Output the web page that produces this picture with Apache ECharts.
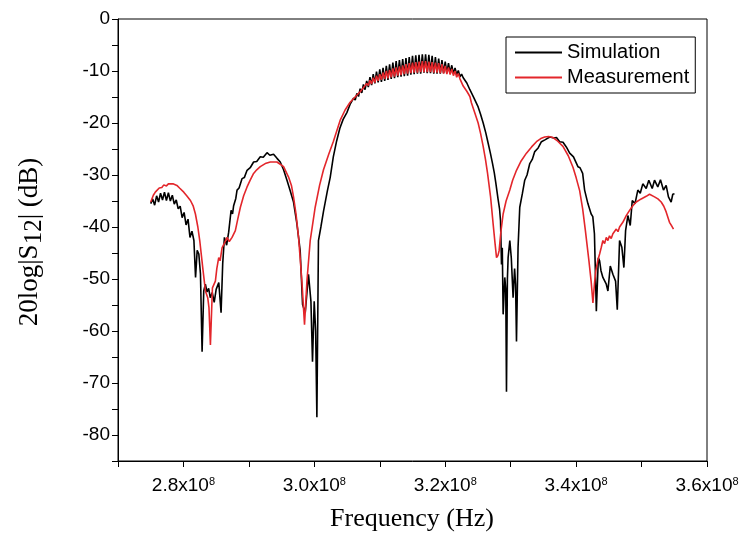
<!DOCTYPE html>
<html>
<head>
<meta charset="utf-8">
<script src="https://cdn.jsdelivr.net/npm/echarts/dist/echarts.min.js"></script>
<style>
  html, body { margin: 0; padding: 0; background: #fff; }
  #chart { width: 749px; height: 539px; }
</style>
</head>
<body>
<div id="chart"></div>
<script>
// frequency in MHz, magnitude in dB
const simulation = [
  [275.0,-35.5],[275.3,-34.6],[275.6,-35.8],[275.9,-34.0],[276.2,-35.2],[276.5,-33.5],[276.8,-34.8],[277.1,-33.3],
  [277.4,-34.9],[277.7,-33.4],[278.0,-35.0],[278.3,-33.9],[278.6,-35.6],[278.9,-34.8],[279.2,-36.5],[279.5,-36.0],
  [279.8,-38.2],[280.1,-37.2],[280.4,-39.6],[280.7,-38.5],[281.0,-42.0],[281.3,-40.8],[281.6,-42.6],[281.85,-49.7],
  [282.1,-44.5],[282.35,-45.2],[282.6,-49.0],[282.85,-64.0],[283.1,-52.3],[283.35,-51.0],[283.6,-52.5],[283.85,-51.8],
  [284.1,-53.6],[284.4,-52.6],[284.7,-54.5],[285.0,-52.0],[285.4,-50.7],[285.75,-56.5],[286.0,-47.0],[286.26,-42.0],
  [286.6,-43.5],[286.91,-41.0],[287.28,-36.8],[287.5,-37.5],[287.67,-35.9],[288.0,-34.5],[288.19,-32.9],[288.5,-32.5],
  [288.95,-30.7],[289.3,-30.5],[289.72,-29.1],[290.2,-28.6],[290.72,-27.5],[291.2,-27.4],[291.74,-26.5],[292.2,-26.6],
  [292.77,-25.7],[293.2,-26.2],[293.77,-26.0],[294.3,-26.8],[294.79,-27.5],[295.3,-29.0],[295.82,-31.0],[296.3,-33.0],
  [296.82,-35.2],[297.34,-39.4],[297.84,-44.6],[298.2,-54.9],[298.61,-56.5],[299.11,-49.1],[299.48,-54.3],[299.72,-65.9],
  [299.98,-54.3],[300.2,-60.0],[300.39,-76.6],[300.63,-42.6],[301.0,-40.0],[301.4,-37.0],[302.0,-33.0],[302.42,-30.5],
  [302.9,-26.5],[303.4,-23.5],[303.9,-21.0],[304.4,-19.3],[304.97,-18.0],
  [305.5,-16.3],[305.75,-16.6],[306.0,-15.2],[306.25,-15.6],[306.5,-14.3],[306.75,-14.9],[307.0,-13.4],[307.25,-14.2],
  [307.5,-12.6],[307.75,-13.6],[308.0,-11.9],[308.25,-13.1],[308.5,-11.2],[308.75,-12.7],[309.0,-10.6],[309.25,-12.4],
  [309.5,-10.1],[309.75,-12.2],[310.0,-9.7],[310.25,-12.1],[310.5,-9.4],[310.75,-11.9],[311.0,-9.0],[311.25,-11.7],
  [311.5,-8.7],[311.75,-11.5],[312.0,-8.4],[312.25,-11.4],[312.5,-8.1],[312.75,-11.2],[313.0,-7.9],[313.25,-11.1],
  [313.5,-7.7],[313.75,-11.0],[314.0,-7.5],[314.25,-10.9],[314.5,-7.3],[314.75,-10.7],[315.0,-7.1],[315.25,-10.6],
  [315.5,-7.0],[315.75,-10.5],[316.0,-6.9],[316.25,-10.5],[316.5,-6.8],[316.75,-10.3],[317.0,-6.8],[317.25,-10.4],
  [317.5,-6.9],[317.75,-10.4],[318.0,-7.1],[318.25,-10.5],[318.5,-7.3],[318.75,-10.5],[319.0,-7.6],[319.25,-10.5],
  [319.5,-7.9],[319.75,-10.4],[320.0,-8.2],[320.25,-10.4],[320.5,-8.5],[320.75,-10.4],[321.0,-8.9],[321.25,-10.5],
  [321.5,-9.4],[321.75,-10.7],[322.0,-9.9],[322.25,-11.1],[322.5,-10.6],
  [322.75,-11.3],[323.3,-12.3],[323.77,-13.6],[324.4,-15.2],[325.03,-16.9],[325.4,-18.3],[325.8,-20.0],[326.2,-21.9],
  [326.56,-23.9],[326.9,-25.8],[327.23,-27.8],[327.5,-29.6],[327.73,-31.5],[328.08,-34.7],[328.3,-36.5],[328.45,-38.8],
  [328.6,-47.2],[328.72,-44.0],[328.85,-56.8],[329.1,-49.7],[329.25,-52.0],[329.36,-71.7],[329.5,-50.0],[329.61,-45.9],
  [329.87,-42.6],[330.1,-46.0],[330.37,-53.6],[330.6,-48.0],[330.75,-51.0],[330.89,-62.0],[331.13,-43.9],[331.39,-36.2],
  [331.8,-33.5],[332.15,-31.0],[332.5,-30.0],[332.92,-27.8],[333.3,-27.0],[333.68,-25.5],[334.2,-24.8],[334.7,-23.6],
  [335.3,-23.2],[335.97,-22.7],[336.6,-22.9],[337.0,-22.8],[337.49,-23.6],[338.0,-23.7],[338.5,-24.6],[339.02,-25.8],
  [339.6,-26.5],[340.28,-28.4],[340.6,-28.6],[341.0,-29.7],[341.3,-32.9],[341.5,-32.6],[341.8,-35.5],[342.05,-35.2],
  [342.3,-37.5],[342.55,-38.0],[342.8,-41.3],[343.09,-56.2],[343.4,-45.9],[343.59,-46.5],[343.8,-48.4],[344.09,-49.7],
  [344.35,-50.0],[344.61,-51.0],[344.86,-52.3],[345.22,-47.5],[345.62,-49.1],[346.03,-50.4],[346.29,-55.9],[346.64,-42.6],
  [346.99,-43.9],[347.3,-47.8],[347.56,-40.7],[347.91,-37.8],[348.27,-39.7],[348.58,-34.9],[349.0,-35.5],[349.43,-32.9],
  [349.8,-33.5],[350.19,-31.7],[350.71,-32.6],[351.11,-31.0],[351.63,-32.6],[351.98,-31.0],[352.48,-32.3],[352.89,-30.9],
  [353.35,-32.9],[353.76,-32.0],[354.11,-34.2],[354.52,-35.2],[354.77,-33.7],[355.03,-33.6]
];

const measurement = [
  [275.0,-35.2],[275.4,-33.9],[275.7,-33.3],[276.0,-33.0],[276.3,-32.5],[276.7,-32.4],[277.0,-31.9],[277.4,-32.1],
  [277.7,-31.7],[278.0,-31.8],[278.4,-31.7],[278.7,-32.0],[279.0,-32.0],[279.4,-32.5],[279.7,-32.7],[280.05,-33.3],
  [280.5,-34.0],[281.07,-34.9],[281.5,-36.0],[281.83,-37.5],[282.2,-40.0],[282.49,-42.6],[283.0,-48.4],[283.36,-52.3],
  [283.71,-53.6],[283.9,-55.5],[284.12,-62.7],[284.43,-51.7],[284.88,-50.4],[285.1,-48.0],[285.39,-45.9],[285.6,-46.5],
  [285.9,-44.0],[286.3,-43.0],[286.67,-42.0],[287.0,-42.8],[287.43,-42.0],[287.93,-40.7],[288.3,-38.5],[288.7,-36.2],
  [289.2,-34.0],[289.72,-32.3],[290.2,-31.0],[290.72,-29.7],[291.2,-29.0],[291.74,-28.4],[292.5,-27.8],[293.27,-27.5],
  [294.29,-27.5],[295.3,-28.4],[296.06,-30.4],[296.5,-32.0],[296.82,-34.2],[297.2,-37.5],[297.59,-42.0],[298.1,-50.4],
  [298.5,-58.8],[298.87,-50.4],[299.37,-42.6],[300.13,-36.2],[300.8,-32.0],[301.4,-29.0],[302.2,-26.0],[302.92,-23.5],
  [303.94,-19.5],[304.7,-17.5],[305.47,-16.0],[306.3,-14.9],
  [307.0,-14.0],[307.25,-13.7],[307.5,-13.2],[307.75,-13.3],[308.0,-12.4],[308.25,-12.8],[308.5,-11.8],[308.75,-12.5],
  [309.0,-11.3],[309.25,-12.2],[309.5,-10.9],[309.75,-11.9],[310.0,-10.6],[310.25,-11.7],[310.5,-10.3],[310.75,-11.5],
  [311.0,-10.0],[311.25,-11.4],[311.5,-9.8],[311.75,-11.2],[312.0,-9.5],[312.25,-11.1],[312.5,-9.3],[312.75,-10.9],
  [313.0,-9.1],[313.25,-10.8],[313.5,-8.9],[313.75,-10.6],[314.0,-8.7],[314.25,-10.5],[314.5,-8.5],[314.75,-10.4],
  [315.0,-8.4],[315.25,-10.3],[315.5,-8.3],[315.75,-10.3],[316.0,-8.2],[316.25,-10.2],[316.5,-8.1],[316.75,-10.2],
  [317.0,-8.1],[317.25,-10.2],[317.5,-8.2],[317.75,-10.2],[318.0,-8.3],[318.25,-10.3],[318.5,-8.4],[318.75,-10.3],
  [319.0,-8.5],[319.25,-10.4],[319.5,-8.7],[319.75,-10.5],[320.0,-9.0],[320.25,-10.6],[320.5,-9.3],[320.75,-10.7],
  [321.0,-9.6],[321.25,-10.9],[321.5,-10.0],[321.75,-11.2],[322.0,-10.5],[322.25,-11.5],[322.5,-11.8],
  [322.75,-12.9],[323.3,-13.9],[323.77,-14.9],[324.0,-16.1],[324.5,-18.0],[325.03,-20.0],[325.4,-22.0],[325.8,-24.5],
  [326.15,-27.0],[326.47,-29.7],[326.93,-34.2],[327.32,-39.4],[327.6,-43.0],[327.84,-45.9],[328.05,-45.5],[328.23,-44.6],
  [328.5,-41.0],[328.85,-37.5],[329.3,-35.0],[329.87,-32.9],[330.3,-31.0],[330.89,-29.1],[331.6,-27.3],[332.41,-25.8],
  [333.2,-24.6],[333.94,-23.6],[334.6,-23.0],[335.2,-22.7],[335.8,-22.6],[336.47,-22.8],[337.2,-23.5],[337.99,-24.5],
  [338.8,-26.3],[339.52,-28.5],[340.0,-30.5],[340.54,-33.0],[341.0,-36.5],[341.4,-40.5],[341.96,-46.5],[342.3,-50.5],
  [342.57,-54.6],[342.8,-51.0],[343.0,-48.5],[343.3,-46.5],[343.59,-45.2],[343.85,-43.9],[344.09,-42.6],[344.35,-43.2],
  [344.61,-42.0],[344.86,-42.6],[345.1,-41.7],[345.36,-42.2],[345.62,-41.3],[345.88,-41.6],[346.14,-40.4],[346.4,-40.9],
  [346.64,-40.0],[346.9,-40.2],[347.14,-39.1],[347.4,-39.0],[347.66,-37.8],[348.17,-36.8],[348.67,-35.9],[349.19,-35.2],
  [349.95,-34.6],[350.71,-34.1],[351.22,-33.7],[351.98,-34.2],[352.5,-34.6],[353.0,-35.2],[353.4,-36.0],[353.76,-37.1],
  [354.27,-39.1],[354.6,-39.8],[354.88,-40.4]
];

const seriesNames = ['Simulation', 'Measurement'];
const xLabelTicks = [280, 300, 320, 340, 360]; // MHz, shown as n.nx10^8
const yLabelTicks = [0, -10, -20, -30, -40, -50, -60, -70, -80];

const chart = echarts.init(document.getElementById('chart'), null, { renderer: 'canvas' });

const labelFont = 'Arial, "Liberation Sans", sans-serif';
const titleFont = '"Times New Roman", "Liberation Serif", serif';

chart.setOption({
  animation: false,
  backgroundColor: '#fff',
  grid: {
    left: 118,
    right: 42,
    top: 19,
    bottom: 78,
    show: true,
    borderColor: '#000',
    borderWidth: 1,
  },
  legend: {
    data: seriesNames,
    orient: 'vertical',
    left: 506,
    top: 37,
    icon: 'rect',
    itemWidth: 47,
    itemHeight: 2,
    itemGap: 4,
    padding: [5, 6, 5, 9],
    borderColor: '#000',
    borderWidth: 1,
    textStyle: { fontFamily: labelFont, fontSize: 20, color: '#000', lineHeight: 21 },
  },
  xAxis: {
    type: 'value',
    min: 270,
    max: 360,
    interval: 10,
    axisLine: { show: true, onZero: false, lineStyle: { color: '#000', width: 1 } },
    axisTick: { show: true, length: 6, lineStyle: { color: '#000' } },
    splitLine: { show: false },
    axisLabel: {
      margin: 15,
      showMaxLabel: true,
      formatter: function (v) {
        if (xLabelTicks.indexOf(v) < 0) return '';
        return '{n|' + (v / 100).toFixed(1) + 'x10}{s|8}';
      },
      rich: {
        n: { fontFamily: labelFont, fontSize: 19, color: '#000' },
        s: { fontFamily: labelFont, fontSize: 11, color: '#000', verticalAlign: 'top' },
      },
    },
  },
  yAxis: {
    type: 'value',
    min: -85,
    max: 0,
    interval: 5,
    axisLine: { show: true, onZero: false, lineStyle: { color: '#000', width: 1 } },
    axisTick: { show: true, length: 6, lineStyle: { color: '#000' } },
    splitLine: { show: false },
    axisLabel: {
      margin: 8,
      fontFamily: labelFont,
      fontSize: 19,
      color: '#000',
      formatter: function (v) {
        return yLabelTicks.indexOf(v) >= 0 ? String(v) : '';
      },
    },
  },
  graphic: [
    {
      type: 'text',
      style: {
        x: 412,
        y: 519,
        text: 'Frequency (Hz)',
        fontFamily: titleFont,
        fontSize: 26,
        fill: '#000',
        align: 'center',
        verticalAlign: 'middle',
      },
    },
    {
      type: 'text',
      x: 30,
      y: 242,
      rotation: Math.PI / 2,
      style: {
        text: '{a|20log|S}{b|12}{a|| (dB)}',
        align: 'center',
        verticalAlign: 'middle',
        rich: {
          a: { fontFamily: titleFont, fontSize: 27, color: '#000', lineHeight: 34 },
          b: { fontFamily: titleFont, fontSize: 25, color: '#000', lineHeight: 34, verticalAlign: 'bottom', padding: [14, 0, 0, 0] },
        },
      },
    },
  ],
  series: [
    {
      name: seriesNames[0],
      type: 'line',
      data: simulation,
      symbol: 'none',
      lineStyle: { color: '#000', width: 1.6 },
      itemStyle: { color: '#000' },
    },
    {
      name: seriesNames[1],
      type: 'line',
      data: measurement,
      symbol: 'none',
      lineStyle: { color: '#e3262b', width: 1.6 },
      itemStyle: { color: '#e3262b' },
    },
  ],
});
</script>
</body>
</html>
